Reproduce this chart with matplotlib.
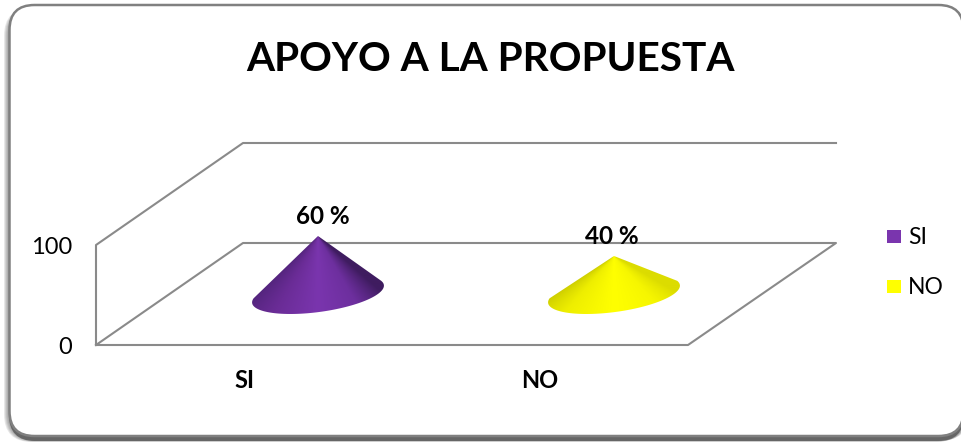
import numpy as np
import matplotlib
matplotlib.use("Agg")
import matplotlib.pyplot as plt
from matplotlib.patches import FancyBboxPatch, PathPatch, Rectangle
from matplotlib.path import Path
from matplotlib.colors import LinearSegmentedColormap

categorias = ["SI", "NO"]
valores = [60, 40]
etiquetas = ["60 %", "40 %"]
ticks_y = [0, 100]
titulo = "APOYO A LA PROPUESTA"

plt.rcParams["font.family"] = ["Lato", "DejaVu Sans"]

fig = plt.figure(figsize=(9.61, 4.43), dpi=100)
ax = fig.add_axes([0, 0, 1, 1])
ax.set_xlim(0, 961)
ax.set_ylim(443, 0)
ax.axis("off")

# marco con sombra
for i in range(6):
    ax.add_patch(FancyBboxPatch((4 + i, 8), 960, 434 - i * 0.3,
                                boxstyle="round,pad=0,rounding_size=28",
                                fc="#555555", ec="none", alpha=0.14, zorder=1))
ax.add_patch(FancyBboxPatch((9, 5), 955, 436, boxstyle="round,pad=0,rounding_size=26",
                            fc="#666666", ec="none", zorder=2))
ax.add_patch(FancyBboxPatch((9.5, 5), 954, 431, boxstyle="round,pad=0,rounding_size=25",
                            fc="white", ec="#808080", lw=1.8, zorder=2))

ax.text(490, 59, titulo, fontsize=29.2, fontweight="bold", ha="center", va="center", zorder=5)


# escala del eje: 1 px por unidad
def y_suelo(v):
    return 345 - v


gris = "#8a8a8a"
xs_suelo = [96, 688, 836, 243, 96]
ys_suelo = [345, 345, 243, 243, 345]
ax.plot(xs_suelo, ys_suelo, color=gris, lw=1.5, zorder=3)
ax.plot([96, 96, 243, 836], [y_suelo(ticks_y[0]), y_suelo(ticks_y[1]), 143, 143], color=gris, lw=1.5, zorder=3)

for t in ticks_y:
    ax.text(72, y_suelo(t) + 2, str(t), fontsize=17, ha="right", va="center", zorder=5)

colores = [
    ["#4f2378", "#6a2c96", "#7a35ae", "#6d2f9e", "#3f1c60"],
    ["#c4c400", "#eeee00", "#ffff00", "#f6f600", "#dcdc00"],
]
leyenda_y = [237, 287]

for i, cat in enumerate(categorias):
    xc = 318 + 296 * i
    vertice_y = 296 - valores[i]
    # base elíptica inclinada, un poco más de media vuelta para redondear las puntas
    t = np.linspace(np.pi + 0.25, -0.25, 80)
    ang = np.radians(-7.8)
    a, b = 66.5, 18
    ex = xc + a * np.cos(t) * np.cos(ang) - b * np.sin(t) * np.sin(ang)
    ey = 294 + a * np.cos(t) * np.sin(ang) + b * np.sin(t) * np.cos(ang)
    verts = [(xc, vertice_y)] + list(zip(ex, ey)) + [(xc, vertice_y)]
    codes = [Path.MOVETO] + [Path.LINETO] * (len(verts) - 2) + [Path.CLOSEPOLY]
    clip = PathPatch(Path(verts, codes), fc="none", ec="none", transform=ax.transData)
    ax.add_patch(clip)
    cmap = LinearSegmentedColormap.from_list("c" + cat, colores[i])
    # sombreado en abanico desde el vértice
    gx, gy = np.meshgrid(np.linspace(xc - 70, xc + 70, 280), np.linspace(vertice_y - 2, 320, 200))
    pend = (gx - xc) / np.maximum(gy - vertice_y, 1)
    tope = 66.5 / (294 - vertice_y)
    grad = np.clip(pend / tope, -1, 1) * 0.5 + 0.5
    im = ax.imshow(grad, extent=[xc - 70, xc + 70, 320, vertice_y - 2], cmap=cmap,
                   origin="upper", aspect="auto", zorder=4)
    im.set_clip_path(clip)

    ax.text(xc + 5 - 7 * i, vertice_y - 20, etiquetas[i], fontsize=17.5, fontweight="bold",
            ha="center", va="center", zorder=5)
    ax.text(244 + 296 * i, 381, cat, fontsize=17, fontweight="bold", ha="center", va="center", zorder=5)

    ax.add_patch(Rectangle((887, leyenda_y[i] - 7), 14, 13, fc=colores[i][2], ec="none", zorder=5))
    ax.text(908, leyenda_y[i], cat, fontsize=16.5, ha="left", va="center", zorder=5)

ax.set_xlim(0, 961)
ax.set_ylim(443, 0)
fig.savefig("out.png", dpi=100)
